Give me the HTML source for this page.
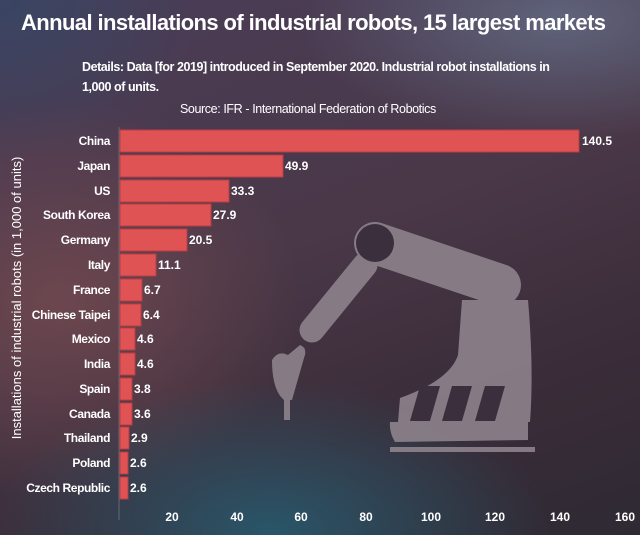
<!DOCTYPE html>
<html><head><meta charset="utf-8"><style>
html,body{margin:0;padding:0}
body{width:640px;height:535px;overflow:hidden;position:relative;font-family:"Liberation Sans",sans-serif;color:#fff;
background:
radial-gradient(ellipse 280px 150px at 270px 530px, rgba(40,90,110,0.9), rgba(40,90,110,0) 100%),
radial-gradient(ellipse 240px 200px at 60px 300px, rgba(120,75,80,0.75), rgba(120,75,80,0) 100%),
radial-gradient(ellipse 260px 120px at 560px 20px, rgba(100,110,135,0.8), rgba(100,110,135,0) 100%),
radial-gradient(ellipse 200px 160px at 0px 0px, rgba(55,70,100,0.9), rgba(55,70,100,0) 100%),
linear-gradient(160deg,#4a3d58 0%,#4a3848 45%,#3a2c38 75%,#2e2a34 100%);}
.t{position:absolute;white-space:nowrap;font-weight:bold}
</style></head><body>
<div class="t" style="left:21px;top:10px;font-size:22px;letter-spacing:-0.6px">Annual installations of industrial robots, 15 largest markets</div>
<div class="t" style="left:82px;top:57px;font-size:12.5px;line-height:20px;white-space:normal;width:490px;letter-spacing:-0.45px">Details: Data [for 2019] introduced in September 2020. Industrial robot installations in 1,000 of units.</div>
<div class="t" style="left:180px;top:102px;font-size:12.5px;font-weight:normal;letter-spacing:-0.4px">Source: IFR - International Federation of Robotics</div>
<svg width="640" height="535" style="position:absolute;left:0;top:0" font-family="Liberation Sans, sans-serif">
<g fill="#8a7f88" opacity="0.95">
<line x1="375" y1="243" x2="500" y2="285" stroke="#8a7f88" stroke-width="42" stroke-linecap="round"/>
<line x1="365" y1="265" x2="312" y2="330" stroke="#8a7f88" stroke-width="25" stroke-linecap="round"/>
<path d="M462,300 L528,300 Q534,370 530,422 L398,422 L400,398 Q450,380 458,355 Z"/>
<path d="M390,422 L528,422 L528,440 L395,442 Q389,432 390,422 Z"/>
<rect x="390" y="447" width="145" height="5"/>
<path d="M300,345 Q308,348 304,358 L292,400 L284,400 Q272,390 272,360 Q278,350 288,355 Z"/>
<rect x="284" y="400" width="6" height="20"/>
</g>
<circle cx="375" cy="243" r="19" fill="#3c2f3d"/>
<g fill="#3c2f3d">
<path d="M420,386 L440,386 L430,421 L410,421 Z"/>
<path d="M452,386 L472,386 L462,421 L442,421 Z"/>
<path d="M485,386 L505,386 L495,421 L475,421 Z"/>
</g>
<line x1="119" y1="127" x2="119" y2="520" stroke="#6a6470" stroke-width="1"/>
<g fill="#e05355" stroke="#b83c42" stroke-width="1">
<rect x="120" y="130" width="459" height="22"/>
<rect x="120" y="155" width="163" height="22"/>
<rect x="120" y="180" width="109" height="22"/>
<rect x="120" y="204" width="91" height="22"/>
<rect x="120" y="229" width="67" height="22"/>
<rect x="120" y="254" width="36" height="22"/>
<rect x="120" y="279" width="22" height="22"/>
<rect x="120" y="304" width="21" height="22"/>
<rect x="120" y="328" width="15" height="22"/>
<rect x="120" y="353" width="15" height="22"/>
<rect x="120" y="378" width="12" height="22"/>
<rect x="120" y="403" width="12" height="22"/>
<rect x="120" y="427" width="9" height="22"/>
<rect x="120" y="452" width="8" height="22"/>
<rect x="120" y="477" width="8" height="22"/>
</g>
<g fill="#fff" font-size="12" font-weight="bold" text-anchor="end" letter-spacing="-0.4">
<text x="110" y="145">China</text><text x="110" y="170">Japan</text><text x="110" y="195">US</text>
<text x="110" y="219">South Korea</text><text x="110" y="244">Germany</text><text x="110" y="269">Italy</text>
<text x="110" y="294">France</text><text x="110" y="319">Chinese Taipei</text><text x="110" y="343">Mexico</text>
<text x="110" y="368">India</text><text x="110" y="393">Spain</text><text x="110" y="418">Canada</text>
<text x="110" y="442">Thailand</text><text x="110" y="467">Poland</text><text x="110" y="492">Czech Republic</text>
</g>
<g fill="#fff" font-size="12" font-weight="bold">
<text x="582" y="145">140.5</text><text x="285" y="170">49.9</text><text x="231" y="195">33.3</text>
<text x="213" y="219">27.9</text><text x="189" y="244">20.5</text><text x="158" y="269">11.1</text>
<text x="144" y="294">6.7</text><text x="143" y="319">6.4</text><text x="137" y="343">4.6</text>
<text x="137" y="368">4.6</text><text x="134" y="393">3.8</text><text x="134" y="418">3.6</text>
<text x="131" y="442">2.9</text><text x="130" y="467">2.6</text><text x="130" y="492">2.6</text>
</g>
<g fill="#fff" font-size="12" font-weight="bold" text-anchor="middle">
<text x="172" y="521">20</text><text x="237" y="521">40</text><text x="301" y="521">60</text><text x="366" y="521">80</text>
<text x="431" y="521">100</text><text x="495" y="521">120</text><text x="560" y="521">140</text><text x="625" y="521">160</text>
</g>
<text transform="translate(21,298) rotate(-90)" fill="#fff" font-size="13" text-anchor="middle">Installations of industrial robots (in 1,000 of units)</text>
</svg>
</body></html>
